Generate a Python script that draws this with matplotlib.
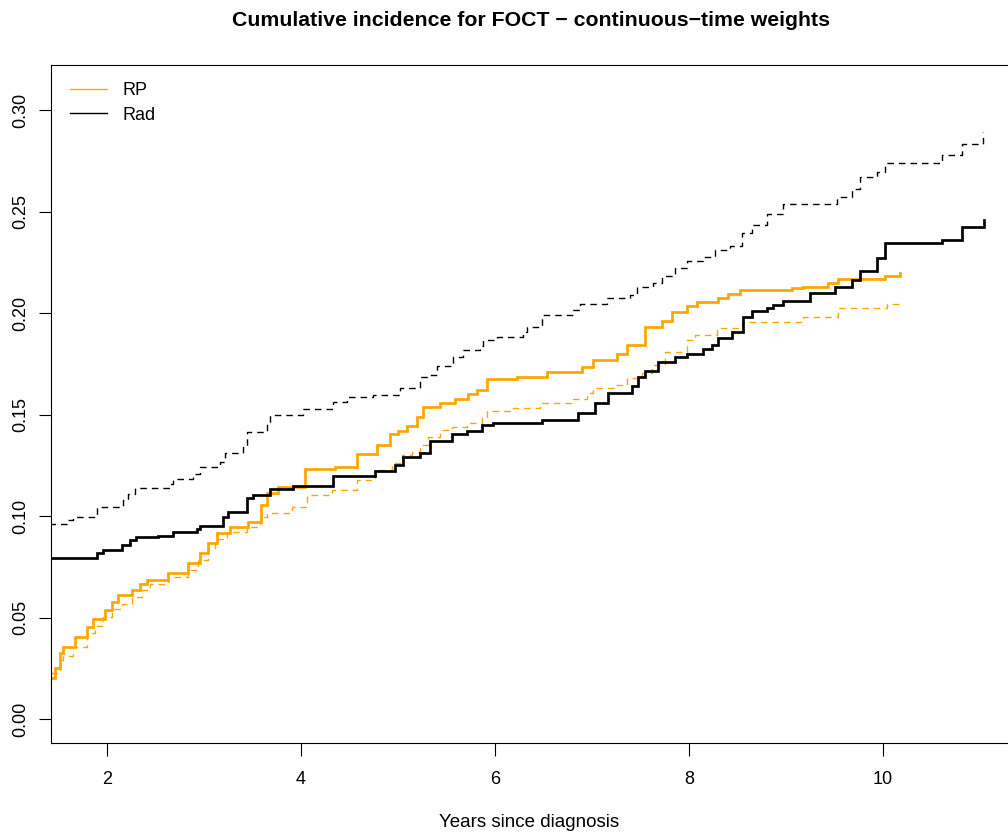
import matplotlib
matplotlib.use("Agg")
import matplotlib.pyplot as plt
from matplotlib.lines import Line2D

# ---- data ----
rp_time = [1.42, 1.464, 1.515, 1.55, 1.67, 1.79, 1.859, 1.979, 2.048, 2.117, 2.254, 2.34, 2.409,
           2.632, 2.838, 2.959, 3.044, 3.131, 3.268, 3.457, 3.584, 3.646, 3.766, 4.041, 4.351,
           4.574, 4.78, 4.918, 5.00, 5.09, 5.193, 5.261, 5.433, 5.588, 5.725, 5.811, 5.914,
           6.224, 6.533, 6.894, 7.013, 7.254, 7.358, 7.546, 7.718, 7.821, 7.976, 8.079, 8.302,
           8.405, 8.526, 9.059, 9.179, 9.436, 9.539, 10.021, 10.175]
rp_cif = [0.020, 0.025, 0.0324, 0.0356, 0.0405, 0.0455, 0.0491, 0.0537, 0.0578, 0.0611, 0.0635,
          0.0665, 0.0685, 0.0721, 0.0767, 0.0816, 0.0865, 0.0915, 0.0947, 0.0972, 0.1054,
          0.1112, 0.1144, 0.1230, 0.1240, 0.1304, 0.1350, 0.1404, 0.1420, 0.1445, 0.1489,
          0.1539, 0.1555, 0.1578, 0.1601, 0.1621, 0.1673, 0.1686, 0.1711, 0.1736, 0.1768,
          0.1800, 0.1842, 0.1930, 0.1960, 0.2006, 0.2034, 0.2056, 0.2072, 0.2094, 0.2113,
          0.2122, 0.2130, 0.2150, 0.2166, 0.2180, 0.2196]

rp_alt_time = [1.42, 1.515, 1.55, 1.653, 1.79, 1.876, 1.962, 2.048, 2.151, 2.254, 2.357, 2.443,
               2.632, 2.838, 2.941, 3.044, 3.113, 3.234, 3.44, 3.577, 3.646, 3.904, 4.059, 4.316,
               4.574, 4.763, 4.935, 5.038, 5.141, 5.227, 5.313, 5.433, 5.553, 5.708, 5.863, 5.914,
               6.189, 6.464, 6.807, 6.945, 7.013, 7.237, 7.358, 7.512, 7.615, 7.753, 7.976, 8.062,
               8.285, 8.543, 9.179, 9.539, 10.038, 10.175]
rp_alt_cif = [0.0225, 0.0290, 0.0310, 0.0356, 0.0422, 0.0458, 0.0504, 0.0540, 0.0567, 0.0602,
              0.0635, 0.0665, 0.0698, 0.0734, 0.0783, 0.0841, 0.0885, 0.0923, 0.0947, 0.0997,
              0.1013, 0.1046, 0.1103, 0.1128, 0.1177, 0.1227, 0.1260, 0.1300, 0.1317, 0.1350,
              0.1391, 0.1424, 0.1440, 0.1457, 0.1486, 0.1519, 0.1530, 0.1558, 0.1575, 0.1607,
              0.1629, 0.1645, 0.1678, 0.1706, 0.1744, 0.1809, 0.1867, 0.1892, 0.1924, 0.1957,
              0.1982, 0.2023, 0.2042, 0.2042]

rad_time = [1.40, 1.894, 1.962, 2.151, 2.237, 2.30, 2.529, 2.684, 2.925, 2.959, 3.199, 3.25,
            3.44, 3.508, 3.68, 3.921, 4.333, 4.763, 4.969, 5.055, 5.227, 5.33, 5.553, 5.708,
            5.863, 5.98, 6.481, 6.859, 7.031, 7.168, 7.409, 7.478, 7.546, 7.684, 7.856, 7.976,
            8.148, 8.234, 8.302, 8.44, 8.56, 8.646, 8.801, 8.869, 8.972, 9.247, 9.505, 9.677,
            9.763, 9.935, 10.021, 10.605, 10.811, 11.041]
rad_cif = [0.0791, 0.0816, 0.0833, 0.0857, 0.0882, 0.0895, 0.0903, 0.0923, 0.0935, 0.0951,
           0.0997, 0.1020, 0.1087, 0.1103, 0.1131, 0.1150, 0.1195, 0.1223, 0.1251, 0.1292,
           0.1312, 0.1371, 0.1404, 0.1420, 0.1448, 0.1457, 0.1473, 0.1509, 0.1558, 0.1604,
           0.1640, 0.1683, 0.1714, 0.1760, 0.1785, 0.1798, 0.1821, 0.1842, 0.1875, 0.1908,
           0.1982, 0.2010, 0.2023, 0.2037, 0.2060, 0.2100, 0.2127, 0.2163, 0.2207, 0.2269,
           0.2343, 0.2360, 0.2422, 0.2458]

rad_alt_time = [1.40, 1.584, 1.653, 1.894, 2.165, 2.22, 2.289, 2.649, 2.684, 2.887, 2.959,
                3.165, 3.216, 3.405, 3.44, 3.646, 3.68, 4.021, 4.33, 4.474, 4.745, 5.021, 5.227,
                5.33, 5.398, 5.57, 5.673, 5.845, 5.88, 6.018, 6.292, 6.33, 6.481, 6.807, 6.876,
                7.15, 7.39, 7.46, 7.632, 7.719, 7.856, 7.976, 8.148, 8.268, 8.423, 8.543, 8.646,
                8.801, 8.972, 9.522, 9.677, 9.763, 9.935, 10.021, 10.605, 10.811, 11.034]
rad_alt_cif = [0.0961, 0.0980, 0.0997, 0.1046, 0.1080, 0.1110, 0.1139, 0.1158, 0.1180, 0.1207,
               0.1243, 0.1268, 0.1310, 0.1341, 0.1415, 0.1465, 0.1498, 0.1525, 0.1563, 0.1585,
               0.1596, 0.1630, 0.1686, 0.1695, 0.1739, 0.1785, 0.1818, 0.1837, 0.1867, 0.1883,
               0.1908, 0.1932, 0.1990, 0.2015, 0.2044, 0.2072, 0.2089, 0.2130, 0.2150, 0.2182,
               0.2220, 0.2256, 0.2277, 0.2310, 0.2330, 0.2392, 0.2433, 0.2490, 0.2537, 0.2573,
               0.2613, 0.2672, 0.2696, 0.2740, 0.2778, 0.2831, 0.2893]

x_ticks = [2, 4, 6, 8, 10]
y_ticks = [0.00, 0.05, 0.10, 0.15, 0.20, 0.25, 0.30]
y_ticklabels = ["0.00", "0.05", "0.10", "0.15", "0.20", "0.25", "0.30"]
legend_labels = ["RP", "Rad"]
title = "Cumulative incidence for FOCT \u2212 continuous\u2212time weights"
xlabel = "Years since diagnosis"

# ---- styling ----
plt.rcParams['font.family'] = ['Liberation Sans', 'DejaVu Sans']
plt.rcParams['lines.scale_dashes'] = False
ORANGE = "#FFA500"

W, H = 1008, 835
fig = plt.figure(figsize=(W / 100, H / 100), dpi=100)
L, R, T, B = 51, 1008, 65, 743
ax = fig.add_axes([L / W, 1 - B / H, (R - L) / W, (B - T) / H])

dash = (0, (4.7, 3.6))
ax.step(rp_time, rp_cif, where='post', color=ORANGE, lw=1.95, solid_joinstyle='miter')
ax.step(rp_alt_time, rp_alt_cif, where='post', color=ORANGE, lw=1.0, linestyle=dash)
ax.step(rad_time, rad_cif, where='post', color='black', lw=1.95, solid_joinstyle='miter')
ax.step(rad_alt_time, rad_alt_cif, where='post', color='black', lw=1.0, linestyle=dash)

ax.set_xlim(1.423, 2 + (R - 107) / 97)
ax.set_ylim(-(B - 719) / 2030, 0.30 + (110 - T) / 2030)

ax.set_xticks(x_ticks)
ax.set_xticklabels([str(t) for t in x_ticks])
ax.set_yticks(y_ticks)
ax.set_yticklabels(y_ticklabels, rotation=90, va='center')

for s in ['left', 'top', 'bottom']:
    ax.spines[s].set_linewidth(0.8)
    ax.spines[s].set_color('black')
ax.spines['right'].set_visible(False)

ax.tick_params(axis='both', length=9, width=0.8, labelsize=13, color='black')
ax.tick_params(axis='x', pad=11)
ax.tick_params(axis='y', pad=7)

ax.set_xlabel(xlabel, fontsize=13.5, labelpad=19)
fig.text((51 + 1012) / 2 / W, 1 - 20 / H, title, ha='center', va='center',
         fontsize=15.3, fontweight='bold')

handles = [Line2D([], [], color=ORANGE, lw=1.0), Line2D([], [], color='black', lw=1.0)]
ax.legend(handles, legend_labels, loc='upper left', frameon=False, fontsize=13,
          handlelength=2.05, handletextpad=0.85, borderaxespad=0.0, borderpad=0.0,
          labelspacing=0.42, bbox_to_anchor=(19 / 957, 1 - 17 / 678))

fig.savefig("out.png", dpi=100)
